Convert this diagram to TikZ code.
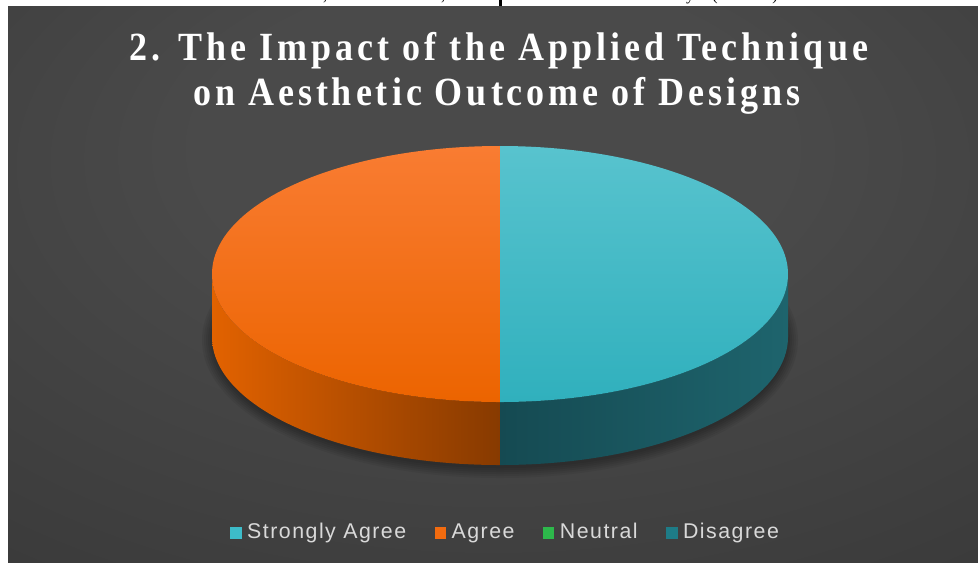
\documentclass[tikz,border=0pt]{standalone}
\usepackage{fontspec}
\newfontfamily\titlefont[LetterSpace=10, FakeStretch=0.9]{Liberation Serif}
\newfontfamily\legendfont[LetterSpace=7]{Liberation Sans}
\newfontfamily\scrapfont{Liberation Serif}
\usetikzlibrary{positioning}

\definecolor{panelLight}{HTML}{4A4A4A}
\definecolor{panelMid}{HTML}{333333}
\definecolor{panelDark}{HTML}{252525}
\definecolor{cyanTop}{HTML}{58C3CE}
\definecolor{cyanMid}{HTML}{30B0BD}
\definecolor{orangeTop}{HTML}{F97C32}
\definecolor{orangeMid}{HTML}{EC6400}
\definecolor{orangeSide}{HTML}{E26200}
\definecolor{orangeDeep}{HTML}{873A00}
\definecolor{tealDeep}{HTML}{154A52}
\definecolor{tealSide}{HTML}{1E646D}
\definecolor{strongSq}{HTML}{3DBCC9}
\definecolor{agreeSq}{HTML}{F26B0F}
\definecolor{neutralSq}{HTML}{2DB84B}
\definecolor{disagreeSq}{HTML}{1E7C87}
\definecolor{legendText}{HTML}{D9D9D9}

\pgfdeclareradialshading{panelglow}{\pgfpoint{0bp}{15bp}}{color(0bp)=(panelLight); color(15bp)=(panelLight); color(55bp)=(panelMid); color(85bp)=(panelDark)}

\begin{document}
\begin{tikzpicture}[x=0.75pt, y=-0.75pt,
    keysq/.style={fill=#1, inner sep=0pt, minimum size=8.5pt},
    keytxt/.style={font=\legendfont\fontsize{16}{18}\selectfont, text=legendText, inner sep=0pt, text height=11.5pt, text depth=3.5pt},
    headline/.style={font=\titlefont\bfseries\fontsize{30}{34}\selectfont, text=white, anchor=base, inner sep=0pt},
    scrap/.style={font=\scrapfont\fontsize{12}{14}\selectfont, anchor=base, inner sep=0pt}]

    \useasboundingbox (0,0) rectangle (978,562);
    \fill[white] (0,0) rectangle (978,562);

    % cut-off line of the page above
    \begin{scope}
        \clip (0,0) rectangle (978,6);
        \node[scrap] (scrap1) at (325,0) {,};
        \node[scrap] (scrap2) at (443,0) {,};
        \node[scrap] (scrap3) at (690,0) {y};
        \node[scrap] (scrap4) at (715,0) {(};
        \node[scrap] (scrap5) at (775,0) {)};
    \end{scope}
    \fill (499,0) rectangle (502,6);

    \shade[shading=panelglow] (8,6) rectangle (978,562);

    \node[headline] (title1) at (499,60) {2. The Impact of the Applied Technique};
    \node[headline] (title2) at (497,105) {on Aesthetic Outcome of Designs};

    % shadow
    \foreach \k in {2,4,...,12}
        \fill[black, opacity=0.06] (500,340) ellipse[x radius=286+\k, y radius=126+\k];

    % sides
    \shade[left color=orangeSide, right color=orangeDeep]
        (212,274) arc[start angle=180, end angle=90, x radius=288, y radius=128]
        -- (500,465) arc[start angle=90, end angle=180, x radius=288, y radius=128] -- cycle;
    \shade[left color=tealDeep, right color=tealSide]
        (500,402) arc[start angle=90, end angle=0, x radius=288, y radius=128]
        -- (788,337) arc[start angle=0, end angle=90, x radius=288, y radius=128] -- cycle;

    % top
    \shade[top color=orangeTop, bottom color=orangeMid]
        (500,146) arc[start angle=270, end angle=90, x radius=288, y radius=128] -- cycle;
    \shade[top color=cyanTop, bottom color=cyanMid]
        (500,146) arc[start angle=-90, end angle=90, x radius=288, y radius=128] -- cycle;

    % legend
    \node[keysq=strongSq] (kStrong) at (236,533) {};
    \node[keytxt, right=3.75pt of kStrong] (tStrong) {Strongly Agree};
    \node[keysq=agreeSq, right=21pt of tStrong] (kAgree) {};
    \node[keytxt, right=3.75pt of kAgree] (tAgree) {Agree};
    \node[keysq=neutralSq, right=21pt of tAgree] (kNeutral) {};
    \node[keytxt, right=3.75pt of kNeutral] (tNeutral) {Neutral};
    \node[keysq=disagreeSq, right=21pt of tNeutral] (kDisagree) {};
    \node[keytxt, right=3.75pt of kDisagree] (tDisagree) {Disagree};

\end{tikzpicture}
\end{document}
